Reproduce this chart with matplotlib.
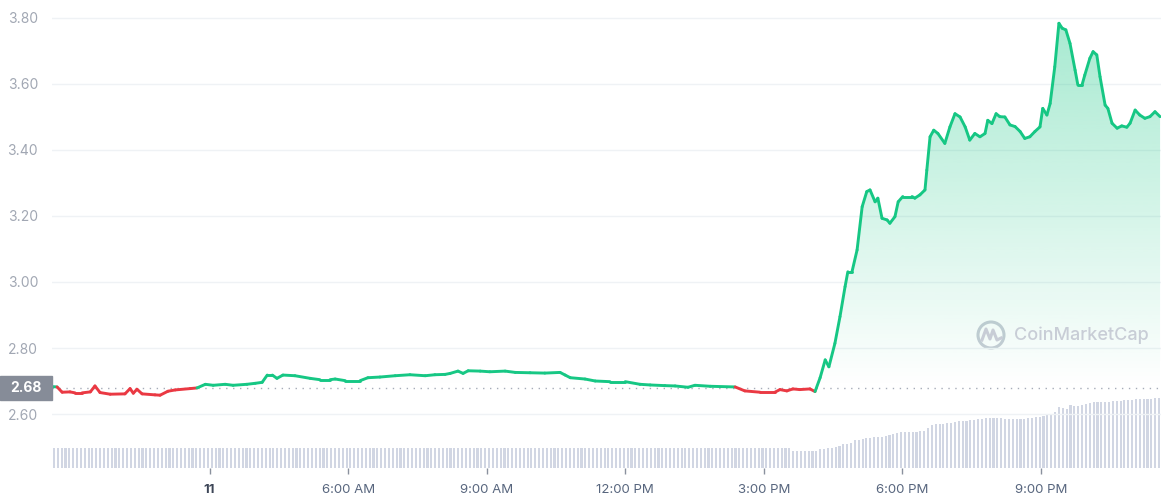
import numpy as np
import matplotlib
matplotlib.use("Agg")
import matplotlib.pyplot as plt
from matplotlib.collections import LineCollection
from matplotlib.patches import PathPatch, Circle, Rectangle
from matplotlib.path import Path
from matplotlib.lines import Line2D
from matplotlib.transforms import IdentityTransform

plt.rcParams['font.family'] = ['Inter', 'DejaVu Sans']

# hours after midnight (x axis), price in USD
hours = [-0.41, -0.30, -0.19, -0.02, 0.09, 0.24, 0.42, 0.52, 0.63, 0.85,
         1.17, 1.28, 1.35, 1.43, 1.54, 1.82, 1.93, 2.10, 2.26, 2.58,
         2.73, 2.91, 3.08, 3.34, 3.51, 3.81, 3.99, 4.14, 4.25, 4.36,
         4.46, 4.59, 4.85, 5.18, 5.39, 5.61, 5.72, 5.94, 6.26, 6.43,
         6.69, 7.02, 7.34, 7.67, 7.88, 8.10, 8.21, 8.38, 8.49, 8.60,
         8.86, 9.07, 9.40, 9.62, 9.94, 10.26, 10.59, 10.70, 10.81, 11.13,
         11.35, 11.67, 12.00, 12.32, 12.54, 12.86, 13.08, 13.36, 13.51, 13.84,
         14.38, 14.59, 14.92, 15.24, 15.35, 15.50, 15.63, 15.78, 16.00, 16.11,
         16.22, 16.33, 16.41, 16.54, 16.65, 16.76, 16.82, 16.91, 17.02, 17.13,
         17.23, 17.30, 17.41, 17.47, 17.56, 17.67, 17.73, 17.84, 17.91, 18.01,
         18.21, 18.27, 18.38, 18.49, 18.53, 18.60, 18.68, 18.77, 18.92, 19.03,
         19.14, 19.25, 19.36, 19.46, 19.57, 19.68, 19.79, 19.85, 19.94, 20.03,
         20.11, 20.22, 20.33, 20.44, 20.55, 20.65, 20.76, 20.87, 20.98, 21.04,
         21.13, 21.20, 21.30, 21.39, 21.46, 21.54, 21.63, 21.74, 21.80, 21.89,
         21.95, 22.06, 22.13, 22.21, 22.28, 22.39, 22.45, 22.54, 22.65, 22.75,
         22.86, 22.93, 23.04, 23.14, 23.25, 23.36, 23.47, 23.58]
price = [2.683, 2.682, 2.666, 2.667, 2.664, 2.664, 2.667, 2.685, 2.665, 2.660,
         2.661, 2.677, 2.663, 2.675, 2.661, 2.658, 2.657, 2.669, 2.673, 2.677,
         2.679, 2.690, 2.687, 2.690, 2.687, 2.690, 2.693, 2.696, 2.718, 2.718,
         2.708, 2.718, 2.716, 2.708, 2.704, 2.704, 2.706, 2.701, 2.701, 2.710,
         2.712, 2.716, 2.719, 2.716, 2.719, 2.720, 2.723, 2.730, 2.723, 2.731,
         2.730, 2.728, 2.730, 2.726, 2.725, 2.724, 2.726, 2.718, 2.710, 2.706,
         2.700, 2.698, 2.698, 2.690, 2.688, 2.686, 2.685, 2.681, 2.687, 2.684,
         2.682, 2.670, 2.666, 2.666, 2.674, 2.670, 2.676, 2.674, 2.676, 2.668,
         2.710, 2.764, 2.743, 2.814, 2.895, 2.986, 3.031, 3.031, 3.097, 3.228,
         3.274, 3.279, 3.243, 3.254, 3.193, 3.188, 3.178, 3.198, 3.243, 3.259,
         3.259, 3.254, 3.264, 3.279, 3.339, 3.440, 3.460, 3.450, 3.420, 3.470,
         3.510, 3.500, 3.470, 3.430, 3.450, 3.440, 3.450, 3.490, 3.480, 3.510,
         3.501, 3.500, 3.476, 3.471, 3.456, 3.435, 3.440, 3.456, 3.470, 3.526,
         3.506, 3.541, 3.652, 3.784, 3.769, 3.764, 3.723, 3.642, 3.597, 3.597,
         3.627, 3.678, 3.698, 3.688, 3.622, 3.536, 3.526, 3.481, 3.466, 3.473,
         3.469, 3.481, 3.521, 3.506, 3.496, 3.501, 3.516, 3.501]
open_price = 2.68

# 24h volume bars, one per 5 minutes (arbitrary units)
volume = ([19.2] * 192 + [17.0] * 7 +
          [18.5, 18.5, 19.5, 20.0, 20.5, 22.0, 23.5, 24.0, 24.2, 27.5,
           28.0, 28.5, 29.5, 30.0, 30.8, 30.5, 30.2, 31.8, 32.5, 33.5,
           34.5, 35.2, 35.2, 35.2, 35.2, 35.5, 36.2, 36.5, 39.5, 42.5,
           43.5, 43.5, 44.0, 44.5, 45.0, 45.8, 46.2, 46.5, 47.0, 47.5,
           48.0, 48.5, 49.0, 49.2, 49.2, 49.2, 49.2, 49.2, 49.0, 49.0,
           48.8, 48.5, 48.5, 49.0, 49.5, 50.0, 50.5, 50.8, 52.0, 53.0,
           54.0, 55.8, 60.2, 60.0, 58.5, 62.5, 61.5, 62.0, 63.0, 64.0,
           64.8, 65.5, 65.8, 65.2, 65.5, 65.8, 66.2, 66.5, 66.8, 67.2,
           67.5, 67.8, 68.2, 68.5, 68.6, 68.8, 69.0, 69.5, 69.8])

tick_hours = [3, 6, 9, 12, 15, 18, 21]
tick_labels = ["11", "6:00 AM", "9:00 AM", "12:00 PM", "3:00 PM", "6:00 PM", "9:00 PM"]
y_ticks = [2.60, 2.80, 3.00, 3.20, 3.40, 3.60, 3.80]

GREEN = "#16c784"
RED = "#ea3943"

fig = plt.figure(figsize=(11.61, 5.0), dpi=100)
ax = fig.add_axes([52 / 1161, 32.5 / 500, 1109 / 1161, 467.5 / 500])
x0, x1 = -0.41, 23.6
ax.set_xlim(x0, x1)
ax.set_ylim(2.4379, 3.8545)

# volume on its own axis
vax = ax.twinx()
vax.set_ylim(0, 467.5)
n = len(volume)
bar_x = x0 + (np.arange(n) + 0.5) * (x1 - x0) / n
vax.bar(bar_x, volume, width=(x1 - x0) / n * 0.55, color="#d1d6e3", zorder=1)
vax.set_axis_off()
ax.set_zorder(vax.get_zorder() + 1)
ax.patch.set_visible(False)

for y in y_ticks:
    ax.axhline(y, color="#eff2f5", lw=1, zorder=0)
ax.axhline(open_price, color="#a6acb8", lw=1, ls=(0, (1, 4)), zorder=1)

h = np.array(hours)
p = np.array(price)

# gradient fill under the line (above open price)
fb = ax.fill_between(h, p, open_price, where=p >= open_price, interpolate=True,
                     facecolor="none", edgecolor="none")
clip = PathPatch(Path.make_compound_path(*fb.get_paths()), transform=ax.transData,
                 facecolor="none", edgecolor="none")
ax.add_patch(clip)
grad = np.zeros((256, 1, 4))
grad[:, 0, :3] = matplotlib.colors.to_rgb(GREEN)
grad[:, 0, 3] = np.linspace(0.0, 0.38, 256)
img = ax.imshow(grad, extent=[x0, x1, open_price, 3.80], origin="lower",
                aspect="auto", zorder=2, interpolation="bilinear")
img.set_clip_path(clip)

# price line coloured by position against open
pts = np.column_stack([h, p])
segs = np.stack([pts[:-1], pts[1:]], axis=1)
mid = (p[:-1] + p[1:]) / 2
cols = [GREEN if m >= open_price else RED for m in mid]
ax.add_collection(LineCollection(segs, colors=cols, linewidths=2.1,
                                 capstyle="round", joinstyle="round", zorder=3))

for s in ax.spines.values():
    s.set_visible(False)
ax.set_yticks(y_ticks)
ax.set_yticklabels([f"{v:.2f}" for v in y_ticks])
ax.tick_params(axis="y", length=0, pad=10, labelsize=10, labelcolor="#a1a7b3")
ax.set_xticks(tick_hours)
ax.set_xticklabels(tick_labels)
ax.tick_params(axis="x", length=4, width=1, color="#8a919e", pad=8,
               labelsize=9.5, labelcolor="#58667e")
ax.get_xticklabels()[0].set_fontweight("bold")
ax.get_xticklabels()[0].set_color("#3d4657")

# current open label on the left
fig.patches.append(Rectangle((0, 100 / 500), 52 / 1161, 24 / 500,
                             transform=fig.transFigure, color="#868c98"))
fig.text(26 / 1161, 112 / 500, "2.68", color="white", fontsize=10,
         fontweight="bold", ha="center", va="center")

# watermark
wm = "#c8cdd6"
fig.add_artist(Circle((991, 165), 13, transform=IdentityTransform(),
                      fill=False, ec=wm, lw=2.2))
fig.add_artist(Line2D([982, 986, 990, 993, 997, 1001],
                      [160, 171, 161, 170, 160, 162],
                      transform=IdentityTransform(), color=wm, lw=2.2))
fig.text(1014 / 1161, 165 / 500, "CoinMarketCap", color=wm, fontsize=13,
         fontweight="medium", ha="left", va="center")

fig.savefig("out.png", dpi=100)
